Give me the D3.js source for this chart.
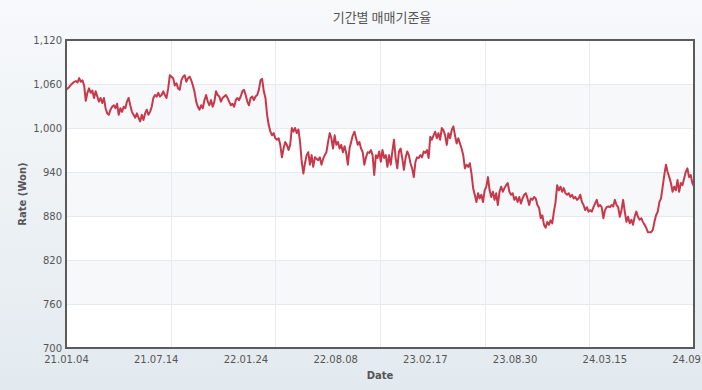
<!DOCTYPE html>
<html>
<head>
<meta charset="utf-8">
<script src="https://cdn.jsdelivr.net/npm/d3@7"></script>
<style>
  html, body { margin: 0; padding: 0; background: #eef2f5; }
  svg { display: block; }
</style>
</head>
<body>
<svg id="chart" width="702" height="390"></svg>
<script>
const chartTitle = "기간별 매매기준율";
const xAxisTitle = "Date";
const yAxisTitle = "Rate (Won)";
const yTicks = [700, 760, 820, 880, 940, 1000, 1060, 1120];
const xLabels = ["21.01.04", "21.07.14", "22.01.24", "22.08.08", "23.02.17", "23.08.30", "24.03.15", "24.09.25"];

// rate series (KRW per 100 JPY)
const rates2021a = [1052,1054,1056,1059,1061,1063,1064,1062,1068,1063,1065,1058,1037,1048,1054,1048,1051,1041,1050,1043,1036,1041,1034,1041,1027,1020,1018,1025,1029,1031,1027,1033,1018,1027,1022,1029,1027,1036,1041,1031,1022,1018,1014,1020,1014,1009,1018,1011,1020,1025,1018,1022,1029,1041,1045,1043,1048,1043,1045,1050,1045,1041,1054,1072];
const rates2021b = [1070,1068,1058,1061,1054,1052,1065,1070,1072,1063,1068,1070,1065,1058,1049,1036,1029,1025,1031,1027,1038,1045,1036,1031,1038,1029,1036,1050,1045,1043,1036,1041,1043,1045,1041,1036,1031,1033,1029,1038,1041,1038,1043,1050,1052,1045,1036,1031,1041,1043,1038,1043,1045,1052,1065,1067,1050,1041,1018,1004,995,990];
const rates2022a = [993,986,984,986,977,960,972,981,977,970,977,1000,995,1000,993,998,981,954,938,952,963,967,950,963,947,960,958,956,960,950,958,963,967,981,993,986,972,990,977,981,972,977,967,975,966,950,972,981,990,995,986,977,981,972,967,950,960,967,966,970,963,936];
const rates2022b = [963,959,968,954,970,959,963,947,963,950,968,984,959,945,968,972,959,943,959,968,963,952,945,933,954,960,959,963,960,968,966,970,959,988,984,990,995,986,993,984,1000,997,990,977,993,986,997,1002,990,979,986,979,972,963,945,950,947,952,938,918,909];
const rates2023 = [899,911,904,909,899,915,920,933,915,906,913,902,911,895,913,920,913,918,922,925,913,909,911,902,906,899,906,897,904,909,911,904,895,904,902,906,904,895,891,877,881,868,864,872,868,874,870,886,899,922,915,920,913,918,911,909,911,906,909,904,906,902,904,909,899,895];
const rates2024 = [888,892,886,888,886,892,897,902,893,895,892,877,888,892,893,892,895,893,902,895,892,879,888,902,886,872,879,870,875,868,879,886,879,875,877,872,868,864,858,858,858,861,872,881,886,899,904,920,936,950,940,933,925,913,920,915,929,913,925,922,931,940,945,933,936,925,920];

const rates = [].concat(rates2021a, rates2021b, rates2022a, rates2022b, rates2023, rates2024);

const W = 702, H = 390;
const m = { left: 66, right: 8, top: 40, bottom: 42 };
const x0 = m.left, x1 = W - m.right, y0 = m.top, y1 = H - m.bottom;

const svg = d3.select("#chart");

// background gradient
const defs = svg.append("defs");
const grad = defs.append("linearGradient").attr("id", "bg").attr("x1", 0).attr("y1", 0).attr("x2", 0).attr("y2", 1);
grad.append("stop").attr("offset", "0%").attr("stop-color", "#f7f9fb");
grad.append("stop").attr("offset", "100%").attr("stop-color", "#e3eaef");
svg.append("rect").attr("width", W).attr("height", H).attr("fill", "url(#bg)");

const x = d3.scaleLinear().domain([0, rates.length - 1]).range([x0, x1]);
const y = d3.scaleLinear().domain([yTicks[0], yTicks[yTicks.length - 1]]).range([y1, y0]);
const xl = d3.scalePoint().domain(xLabels).range([x0, x1]);

// plot background + alternating bands
svg.append("rect").attr("x", x0).attr("y", y0).attr("width", x1 - x0).attr("height", y1 - y0).attr("fill", "#ffffff");
const bands = d3.range(yTicks.length - 1).filter(i => i % 2 === 1);
svg.append("g").selectAll("rect").data(bands).join("rect")
  .attr("x", x0)
  .attr("width", x1 - x0)
  .attr("y", i => y(yTicks[i + 1]))
  .attr("height", i => y(yTicks[i]) - y(yTicks[i + 1]))
  .attr("fill", "#f6f8fa");

// grid lines
const vGrid = d3.range(1, 6).map(i => (rates.length - 1) * i / 6);
svg.append("g").selectAll("line").data(vGrid).join("line")
  .attr("x1", d => Math.round(x(d)) + 0.5).attr("x2", d => Math.round(x(d)) + 0.5)
  .attr("y1", y0).attr("y2", y1)
  .attr("stroke", "#e6eaee").attr("stroke-width", 1);
svg.append("g").selectAll("line").data(yTicks.slice(1, -1)).join("line")
  .attr("x1", x0).attr("x2", x1)
  .attr("y1", d => Math.round(y(d)) + 0.5).attr("y2", d => Math.round(y(d)) + 0.5)
  .attr("stroke", "#e6eaee").attr("stroke-width", 1);

// line
const line = d3.line().x((d, i) => x(i)).y(d => y(d));
svg.append("path").datum(rates)
  .attr("d", line)
  .attr("fill", "none")
  .attr("stroke", "#c8384b")
  .attr("stroke-width", 2)
  .attr("stroke-linejoin", "round");

// frame
svg.append("rect").attr("x", x0).attr("y", y0).attr("width", x1 - x0).attr("height", y1 - y0)
  .attr("fill", "none").attr("stroke", "#5b5b5b").attr("stroke-width", 2);

// axes
const fontFam = "'DejaVu Sans', 'Noto Sans', sans-serif";
const yAxis = svg.append("g").attr("transform", `translate(${x0},0)`)
  .call(d3.axisLeft(y).tickValues(yTicks).tickFormat(d3.format(",")).tickSize(0).tickPadding(4));
yAxis.select(".domain").remove();
yAxis.selectAll("text").attr("font-family", fontFam).attr("font-size", 10).attr("fill", "#555");

const xAxis = svg.append("g").attr("transform", `translate(0,${y1})`)
  .call(d3.axisBottom(xl).tickSize(0).tickPadding(8));
xAxis.select(".domain").remove();
xAxis.selectAll("text").attr("font-family", fontFam).attr("font-size", 10).attr("fill", "#555");

// titles
svg.append("text").attr("x", 382).attr("y", 22).attr("text-anchor", "middle")
  .attr("font-family", "'Noto Sans CJK KR', sans-serif").attr("font-size", 13).attr("fill", "#555")
  .text(chartTitle);
svg.append("text").attr("x", (x0 + x1) / 2).attr("y", 379).attr("text-anchor", "middle")
  .attr("font-family", fontFam).attr("font-size", 10).attr("font-weight", "bold").attr("fill", "#555")
  .text(xAxisTitle);
svg.append("text").attr("transform", `translate(26,${(y0 + y1) / 2}) rotate(-90)`).attr("text-anchor", "middle")
  .attr("font-family", fontFam).attr("font-size", 10).attr("font-weight", "bold").attr("fill", "#555")
  .text(yAxisTitle);
</script>
</body>
</html>
